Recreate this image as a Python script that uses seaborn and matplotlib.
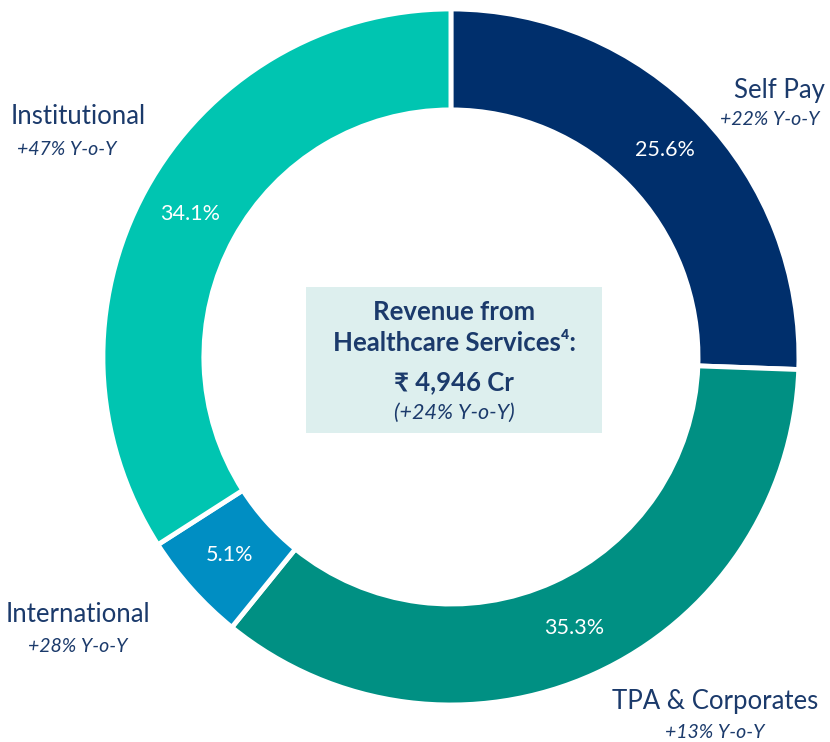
import matplotlib
matplotlib.use("Agg")
import matplotlib.pyplot as plt
import seaborn as sns
from matplotlib.patches import Rectangle

# segment data (clockwise from 12 o'clock)
segments = ["Self Pay", "TPA & Corporates", "International", "Institutional"]
shares = [25.6, 35.3, 5.1, 34.1]
growth = ["+22% Y-o-Y", "+13% Y-o-Y", "+28% Y-o-Y", "+47% Y-o-Y"]
colors = ["#002F6C", "#009083", "#008EC3", "#00C5B1"]

total_label = "₹ 4,946 Cr"
total_growth = "(+24% Y-o-Y)"

sns.set_theme(style="white")
plt.rcParams["font.family"] = ["Lato", "DejaVu Sans"]
text_col = "#1B3A6B"

fig = plt.figure(figsize=(8.3, 7.42), dpi=100)
ax = fig.add_axes([0.124, 0.0499, 0.8386, 0.938])

wedges, pct_texts = ax.pie(
    shares,
    labels=[f"{v:.1f}%" for v in shares],
    labeldistance=0.855,
    colors=colors,
    startangle=90,
    counterclock=False,
    radius=1.0,
    wedgeprops=dict(width=0.29, edgecolor="white", linewidth=3.5),
    textprops=dict(color="white", fontsize=15.5, ha="center", va="center"),
)
for t in pct_texts:
    t.set_ha("center")
    t.set_va("center")

# outer category labels
label_pos = {
    "Self Pay": (0.943, 0.767, 0.917, 0.681),
    "TPA & Corporates": (0.759, -0.991, 0.759, -1.080),
    "International": (-1.072, -0.741, -1.072, -0.833),
    "Institutional": (-1.072, 0.690, -1.103, 0.595),
}
for name, g in zip(segments, growth):
    x1, y1, x2, y2 = label_pos[name]
    ax.text(x1, y1, name, color=text_col, fontsize=18.5, ha="center", va="center")
    ax.text(x2, y2, g, color=text_col, fontsize=14, style="italic", ha="center", va="center")

# centre box
ax.add_patch(Rectangle((-0.417, -0.218), 0.851, 0.419, facecolor="#DDEFEE", edgecolor="none", zorder=1))
ax.text(0.009, 0.129, "Revenue from", color=text_col, fontsize=18.5, fontweight="bold", ha="center", va="center")
ax.text(0.009, 0.040, "Healthcare Services⁴:", color=text_col, fontsize=18.5, fontweight="bold", ha="center", va="center")
ax.text(0.009, -0.072, total_label, color=text_col, fontsize=18.5, fontweight="bold", ha="center", va="center")
ax.text(0.009, -0.161, total_growth, color=text_col, fontsize=15.5, style="italic", ha="center", va="center")

ax.set_xlim(-1, 1)
ax.set_ylim(-1, 1)
ax.set_aspect("equal")
ax.axis("off")

fig.savefig("out.png", dpi=100)
